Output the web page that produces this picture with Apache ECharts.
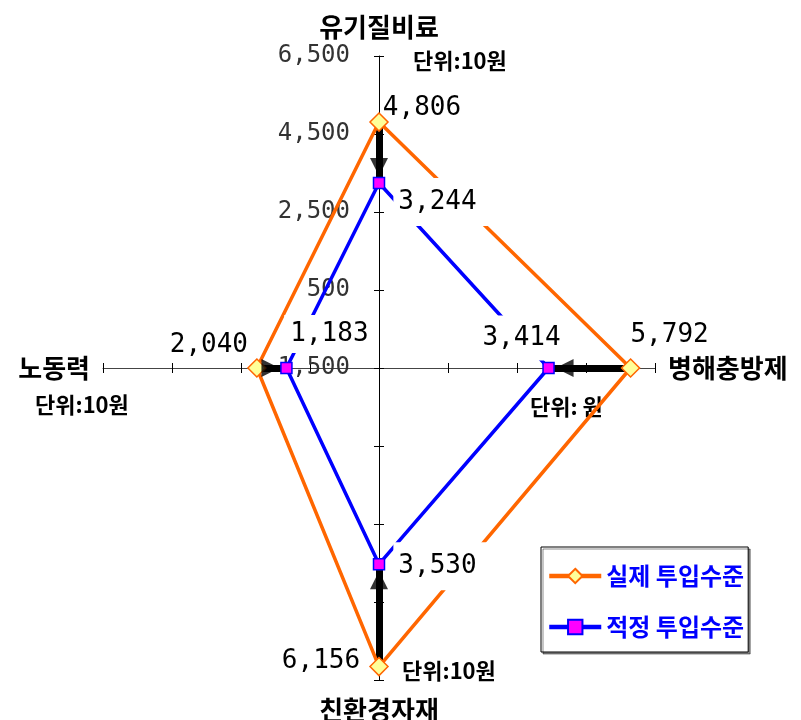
<!DOCTYPE html>
<html>
<head>
<meta charset="utf-8">
<script src="https://cdn.jsdelivr.net/npm/echarts@6/dist/echarts.min.js"></script>
<style>
html, body { margin: 0; padding: 0; background: #fff; }
#main { width: 801px; height: 720px; }
</style>
</head>
<body>
<div id="main"></div>
<script>
// 축 순서: 위, 오른쪽, 아래, 왼쪽
var axisNames = ["유기질비료", "병해충방제", "친환경자재", "노동력"];
var unitTexts = ["단위:10원", "단위: 원", "단위:10원", "단위:10원"];
var seriesNames = ["실제 투입수준", "적정 투입수준"];
var actual = [4806, 5792, 6156, 2040];   // 실제 투입수준
var optimal = [3244, 3414, 3530, 1183];  // 적정 투입수준
var scaleMin = -1500;
var scaleMax = 6500;
var scaleStep = 2000;

// 라벨 위치 (점 기준 offset)
var actualLabelOffset = [[43, -14], [39, -33], [-58, -5], [-48, -23]];
var optimalLabelOffset = [[64, 19], [-27, -30], [64, 2], [43, -34]];
var optimalLabelPad = [[10, 16, 12, 5], [11, 8, 8, 8], [10, 16, 12, 5], [10, 6, 2, 6]];
var unitPos = [[413, 61], [530, 407], [402, 671], [35, 405]];
// 화살표 머리: 회전, 위치
var headRotate = [180, 90, 0, -90];
var headOffset = [[0, -16], [16, 0], [0, 16], [-16, 0]];

var span = scaleMax - scaleMin;
var dirs = [[0, 1], [1, 0], [0, -1], [-1, 0]];

function toXY(v, i) {
  var r = v - scaleMin;
  return [dirs[i][0] * r, dirs[i][1] * r];
}
function fmt(v) {
  return v.toLocaleString("en-US");
}

var valueFont = { color: "#000", fontSize: 26, fontFamily: "DejaVu Sans Mono", lineHeight: 26, textBorderWidth: 0 };
var nameFont = { color: "#000", fontSize: 26, fontWeight: "bold", fontFamily: "Noto Sans CJK KR" };

function buildData(values, offsets, pads) {
  var list = values.map(function (v, i) {
    var label = Object.assign({ show: true, position: "inside", offset: offsets[i], formatter: fmt(v) }, valueFont);
    if (pads) {
      label.backgroundColor = "#fff";
      label.padding = pads[i];
    }
    return { value: toXY(v, i), label: label };
  });
  // 다각형 닫기
  list.push({ value: toXY(values[0], 0), symbol: "none", label: { show: false } });
  return list;
}

function valueAxis(extra) {
  return Object.assign({
    type: "value",
    min: -span,
    max: span,
    interval: scaleStep,
    splitLine: { show: false },
    axisLabel: { show: false }
  }, extra);
}

var myChart = echarts.init(document.getElementById("main"));

var option = {
  animation: false,
  backgroundColor: "#fff",
  grid: { left: 103, top: 56, width: 552, height: 624, outerBoundsMode: "none" },
  xAxis: [
    valueAxis({
      position: "bottom", offset: -312,
      name: axisNames[1], nameLocation: "end", nameGap: 13, nameTextStyle: nameFont,
      axisLine: { onZero: false, lineStyle: { color: "#444", width: 1 } },
      axisTick: { show: true, inside: true, length: 5, lineStyle: { color: "#000" } }
    }),
    valueAxis({
      position: "bottom", offset: -312,
      name: axisNames[3], nameLocation: "start", nameGap: 13, nameTextStyle: nameFont,
      axisLine: { onZero: false, lineStyle: { color: "rgba(0,0,0,0)" } },
      axisTick: { show: true, inside: false, length: 5, lineStyle: { color: "#000" } }
    })
  ],
  yAxis: [
    valueAxis({
      position: "left", offset: -276,
      name: axisNames[0], nameLocation: "end", nameGap: 16, nameTextStyle: nameFont,
      axisLine: { onZero: false, lineStyle: { color: "#000", width: 1 } },
      axisTick: { show: true, inside: true, length: 5, lineStyle: { color: "#000" } },
      axisLabel: {
        show: true, margin: 29, color: "#333", fontSize: 24, fontFamily: "DejaVu Sans Mono",
        formatter: function (v) { return v >= 0 ? fmt(v + scaleMin) : ""; }
      }
    }),
    valueAxis({
      position: "left", offset: -276,
      name: axisNames[2], nameLocation: "start", nameGap: 17, nameTextStyle: nameFont,
      axisLine: { onZero: false, lineStyle: { color: "rgba(0,0,0,0)" } },
      axisTick: { show: true, inside: false, length: 5, lineStyle: { color: "#000" } }
    })
  ],
  legend: {
    orient: "vertical",
    left: 541,
    top: 547,
    data: seriesNames,
    itemWidth: 52,
    itemHeight: 18,
    itemGap: 25,
    padding: [16, 4, 12, 6],
    borderColor: "#000",
    borderWidth: 1,
    backgroundColor: "#fff",
    shadowColor: "rgba(0,0,0,0.45)",
    shadowOffsetX: 2,
    shadowOffsetY: 2,
    lineStyle: { width: 4.5 },
    textStyle: { color: "#0000FF", fontSize: 24, fontWeight: "bold", fontFamily: "Noto Sans CJK KR", lineHeight: 26 }
  },
  graphic: unitTexts.map(function (t, i) {
    return {
      type: "text", x: unitPos[i][0], y: unitPos[i][1], silent: true,
      style: { text: t, fill: "#000", font: 'bold 22px "Noto Sans CJK KR"', align: "left", verticalAlign: "middle" }
    };
  }),
  series: [
    {
      // 화살표 몸통
      type: "lines",
      coordinateSystem: "cartesian2d",
      silent: true,
      z: 1,
      symbol: "none",
      lineStyle: { color: "#000", width: 7, opacity: 1, cap: "butt" },
      data: actual.map(function (v, i) {
        return { coords: [toXY(v, i), toXY(optimal[i], i)] };
      })
    },
    {
      name: seriesNames[0],
      type: "line",
      z: 2,
      clip: false,
      symbol: "diamond",
      symbolSize: 18,
      itemStyle: { color: "#FFFF99", borderColor: "#FF6600", borderWidth: 1.5 },
      lineStyle: { color: "#FF6600", width: 3.5 },
      data: buildData(actual, actualLabelOffset, null)
    },
    {
      name: seriesNames[1],
      type: "line",
      z: 2,
      clip: false,
      symbol: "rect",
      symbolSize: 11,
      itemStyle: { color: "#FF00FF", borderColor: "#0000FF", borderWidth: 1.5 },
      lineStyle: { color: "#0000FF", width: 3.5 },
      data: buildData(optimal, optimalLabelOffset, optimalLabelPad)
    },
    {
      // 화살표 머리
      type: "scatter",
      silent: true,
      z: 3,
      symbol: "triangle",
      symbolSize: [18, 18],
      itemStyle: { color: "#000" },
      data: optimal.map(function (v, i) {
        return { value: toXY(v, i), symbolRotate: headRotate[i], symbolOffset: headOffset[i] };
      })
    }
  ]
};

myChart.setOption(option);
</script>
</body>
</html>
